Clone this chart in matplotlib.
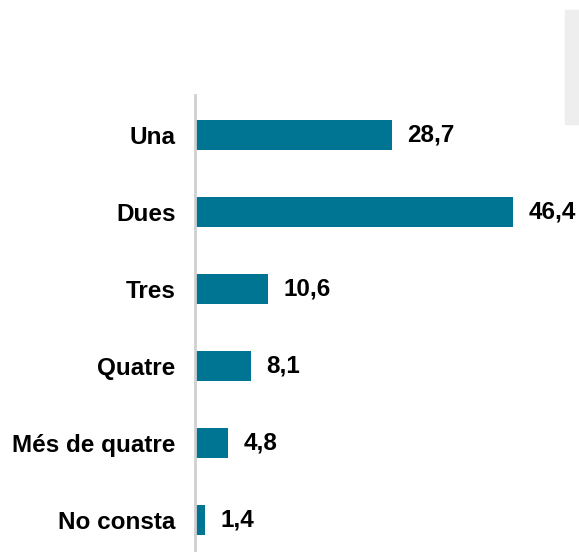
import matplotlib.pyplot as plt
from matplotlib.patches import Rectangle

categories = ['Una', 'Dues', 'Tres', 'Quatre', 'Més de quatre', 'No consta']
values = [28.7, 46.4, 10.6, 8.1, 4.8, 1.4]
value_labels = ['28,7', '46,4', '10,6', '8,1', '4,8', '1,4']

plt.rcParams['font.family'] = ['Liberation Sans', 'DejaVu Sans']

fig = plt.figure(figsize=(5.79, 5.52), dpi=100)
W, H = 579, 552

# light grey box at top right (cut off)
fig.patches.append(Rectangle((565 / W, 1 - 124 / H), 20 / W, 114 / H,
                             transform=fig.transFigure, color='#eeeeee', zorder=0))

ax = fig.add_axes([195 / W, 0, 1 - 195 / W, 1 - 95 / H])
ypos = list(range(len(categories)))
ax.barh(ypos, values, height=0.40, color='#007593', zorder=2)

for y, v, lab in zip(ypos, values, value_labels):
    ax.text(v + 2.3, y, lab, va='center', ha='left', fontsize=17.5,
            fontweight='bold', color='black')

ax.set_yticks(ypos)
ax.set_yticklabels(categories, fontsize=17.5, fontweight='bold', color='black')
ax.tick_params(axis='y', length=0, pad=14)
ax.set_xticks([])
ax.set_xlim(0, 56)
ax.set_ylim(5.416, -0.519)

for s in ['top', 'right', 'bottom']:
    ax.spines[s].set_visible(False)
ax.spines['left'].set_color('#d0d0d0')
ax.spines['left'].set_linewidth(2)
ax.patch.set_alpha(0)

fig.savefig('out.png', dpi=100)
